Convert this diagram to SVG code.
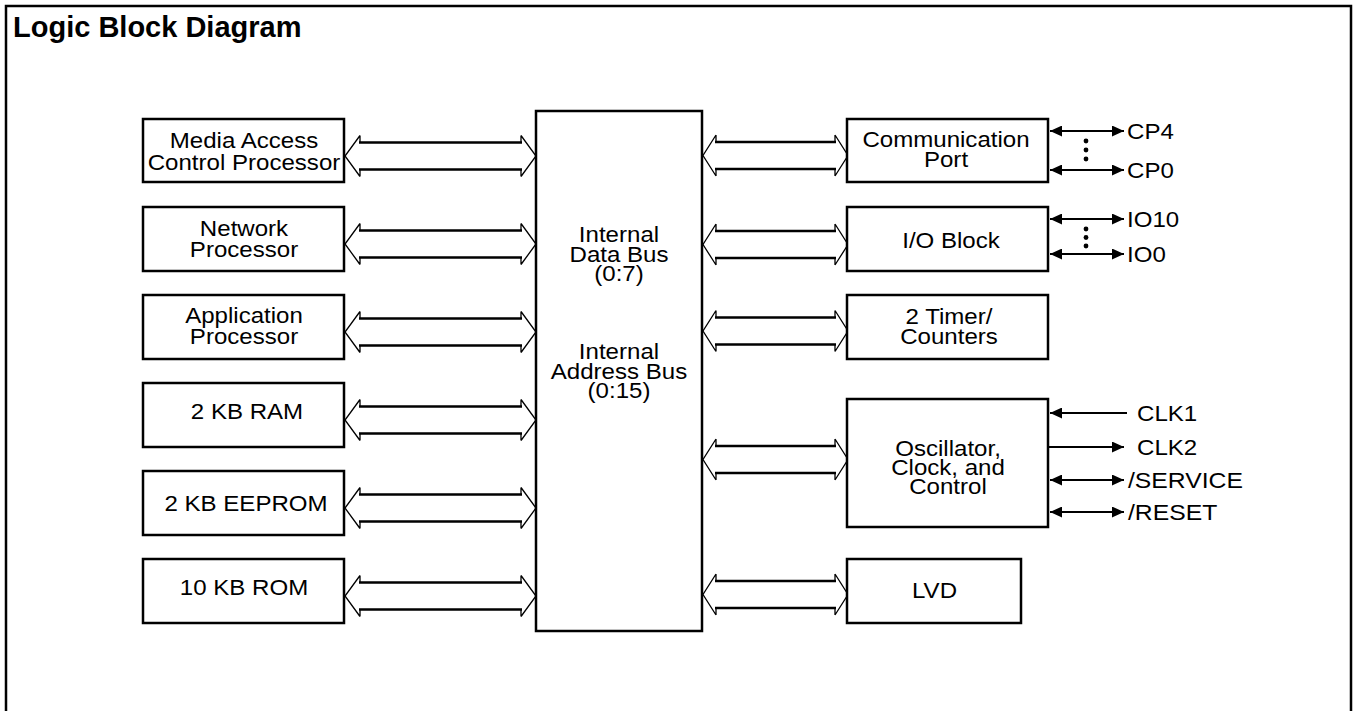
<svg xmlns="http://www.w3.org/2000/svg" xmlns:xlink="http://www.w3.org/1999/xlink" width="1353" height="711" viewBox="0 0 1353 711">
<style>
.box{fill:#fff;stroke:#000;stroke-width:2.5}
.t{font-family:"Liberation Sans",Arial,sans-serif;font-size:21.5px;fill:#000}
.c{text-anchor:middle}
.title{font-family:"Liberation Sans",Arial,sans-serif;font-size:29px;font-weight:bold;fill:#000}
.head{fill:none;stroke:#000;stroke-width:1.3;stroke-linejoin:miter}
.shaft{fill:none;stroke:#000;stroke-width:2.5}
.sig{fill:none;stroke:#000;stroke-width:2}
</style>
<defs>
<marker id="ah" viewBox="0 0 12 11" refX="12" refY="5.5" markerWidth="12" markerHeight="11" markerUnits="userSpaceOnUse" orient="auto-start-reverse">
<path d="M0,0 L12,5.5 L0,11 z" fill="#000"/>
</marker>
<g id="busL">
<path class="head" d="M15,-20.5 L0,0 L15,20.5 M15,-20.5 V-13.5 M15,20.5 V13.5 M176,-20.5 L191,0 L176,20.5 M176,-20.5 V-13.5 M176,20.5 V13.5"/>
<path class="shaft" d="M14,-13.5 H177 M14,13.5 H177"/>
</g>
<g id="busR">
<path class="head" d="M13,-20.5 L0,0 L13,20.5 M13,-20.5 V-13.5 M13,20.5 V13.5 M132,-20.5 L145,0 L132,20.5 M132,-20.5 V-13.5 M132,20.5 V13.5"/>
<path class="shaft" d="M12,-13.5 H133 M12,13.5 H133"/>
</g>
</defs>
<rect x="0" y="0" width="1353" height="711" fill="#fff"/>
<rect x="6" y="6" width="1345" height="720" fill="none" stroke="#000" stroke-width="2.5"/>
<text class="title" x="13" y="36.5">Logic Block Diagram</text>

<g id="connectors">
<use xlink:href="#busL" x="345" y="156"/>
<use xlink:href="#busL" x="345" y="244"/>
<use xlink:href="#busL" x="345" y="332"/>
<use xlink:href="#busL" x="345" y="420"/>
<use xlink:href="#busL" x="345" y="508"/>
<use xlink:href="#busL" x="345" y="596"/>
<use xlink:href="#busR" x="703" y="155.5"/>
<use xlink:href="#busR" x="703" y="244.5"/>
<use xlink:href="#busR" x="703" y="331"/>
<use xlink:href="#busR" x="703" y="459.5"/>
<use xlink:href="#busR" x="703" y="594.5"/>
<line class="sig" x1="1050" y1="131" x2="1124" y2="131" marker-start="url(#ah)" marker-end="url(#ah)"/>
<line class="sig" x1="1050" y1="170" x2="1124" y2="170" marker-start="url(#ah)" marker-end="url(#ah)"/>
<line class="sig" x1="1050" y1="219" x2="1124" y2="219" marker-start="url(#ah)" marker-end="url(#ah)"/>
<line class="sig" x1="1050" y1="254" x2="1124" y2="254" marker-start="url(#ah)" marker-end="url(#ah)"/>
<line class="sig" x1="1050" y1="413" x2="1127" y2="413" marker-start="url(#ah)"/>
<line class="sig" x1="1048" y1="447" x2="1124" y2="447" marker-end="url(#ah)"/>
<line class="sig" x1="1050" y1="480" x2="1124" y2="480" marker-start="url(#ah)" marker-end="url(#ah)"/>
<line class="sig" x1="1050" y1="512" x2="1124" y2="512" marker-start="url(#ah)" marker-end="url(#ah)"/>
<g fill="#000">
<circle cx="1086" cy="141" r="2.4"/><circle cx="1086" cy="150" r="2.4"/><circle cx="1086" cy="159" r="2.4"/>
<circle cx="1086" cy="229" r="2.4"/><circle cx="1086" cy="237.5" r="2.4"/><circle cx="1086" cy="246" r="2.4"/>
</g>
</g>

<g id="bus">
<rect class="box" x="536" y="111" width="166" height="520"/>
<text class="t c" transform="translate(619,242) scale(1.12,1)"><tspan x="0" y="0">Internal</tspan><tspan x="0" y="19.5">Data Bus</tspan><tspan x="0" y="39">(0:7)</tspan></text>
<text class="t c" transform="translate(619,359) scale(1.12,1)"><tspan x="0" y="0">Internal</tspan><tspan x="0" y="19.5">Address Bus</tspan><tspan x="0" y="39">(0:15)</tspan></text>
</g>

<g id="mac">
<rect class="box" x="143" y="119" width="201" height="63"/>
<text class="t c" transform="translate(244,148) scale(1.12,1)"><tspan x="0" y="0">Media Access</tspan><tspan x="0" y="22">Control Processor</tspan></text>
</g>
<g id="network">
<rect class="box" x="143" y="207" width="201" height="64"/>
<text class="t c" transform="translate(244,236) scale(1.12,1)"><tspan x="0" y="0">Network</tspan><tspan x="0" y="21">Processor</tspan></text>
</g>
<g id="application">
<rect class="box" x="143" y="295" width="201" height="64"/>
<text class="t c" transform="translate(244,323) scale(1.12,1)"><tspan x="0" y="0">Application</tspan><tspan x="0" y="21">Processor</tspan></text>
</g>
<g id="ram">
<rect class="box" x="143" y="383" width="201" height="64"/>
<text class="t c" transform="translate(247,419) scale(1.12,1)">2 KB RAM</text>
</g>
<g id="eeprom">
<rect class="box" x="143" y="471" width="201" height="64"/>
<text class="t c" transform="translate(246,511) scale(1.12,1)">2 KB EEPROM</text>
</g>
<g id="rom">
<rect class="box" x="143" y="559" width="201" height="64"/>
<text class="t c" transform="translate(244,594.5) scale(1.12,1)">10 KB ROM</text>
</g>

<g id="commport">
<rect class="box" x="847" y="119" width="201" height="63"/>
<text class="t c" transform="translate(946,146.5) scale(1.12,1)"><tspan x="0" y="0">Communication</tspan><tspan x="0" y="21">Port</tspan></text>
<text class="t" transform="translate(1127,139) scale(1.12,1)">CP4</text>
<text class="t" transform="translate(1127,178) scale(1.12,1)">CP0</text>
</g>
<g id="io">
<rect class="box" x="847" y="207" width="201" height="64"/>
<text class="t c" transform="translate(951,247.5) scale(1.12,1)">I/O Block</text>
<text class="t" transform="translate(1127,227) scale(1.12,1)">IO10</text>
<text class="t" transform="translate(1127,262) scale(1.12,1)">IO0</text>
</g>
<g id="timer">
<rect class="box" x="847" y="295" width="201" height="64"/>
<text class="t c" transform="translate(949,323.5) scale(1.12,1)"><tspan x="0" y="0">2 Timer/</tspan><tspan x="0" y="21">Counters</tspan></text>
</g>
<g id="osc">
<rect class="box" x="847" y="399" width="201" height="128"/>
<text class="t c" transform="translate(948,455.5) scale(1.12,1)"><tspan x="0" y="0">Oscillator,</tspan><tspan x="0" y="19.5">Clock, and</tspan><tspan x="0" y="39">Control</tspan></text>
<text class="t" transform="translate(1137,421) scale(1.12,1)">CLK1</text>
<text class="t" transform="translate(1137,455) scale(1.12,1)">CLK2</text>
<text class="t" transform="translate(1128,488) scale(1.15,1)">/SERVICE</text>
<text class="t" transform="translate(1128,520) scale(1.15,1)">/RESET</text>
</g>
<g id="lvd">
<rect class="box" x="847" y="559" width="174" height="64"/>
<text class="t c" transform="translate(934.5,598) scale(1.12,1)">LVD</text>
</g>
</svg>
